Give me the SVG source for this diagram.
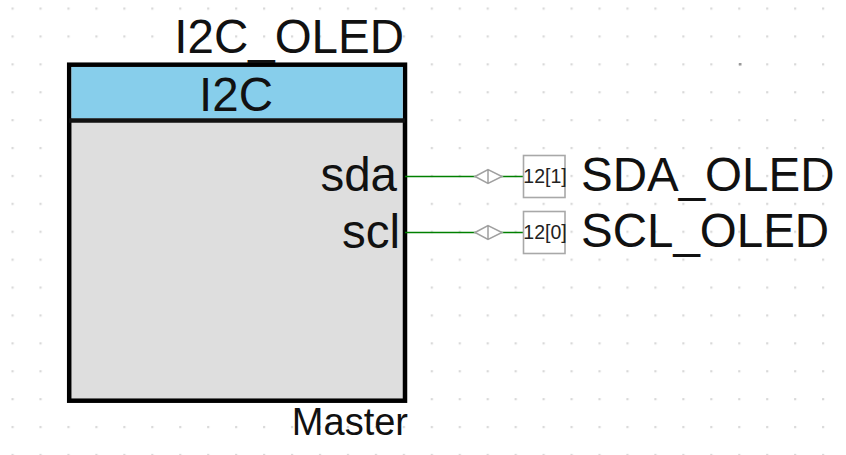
<svg xmlns="http://www.w3.org/2000/svg" width="846" height="455" viewBox="0 0 846 455">
<style>
text{font-family:"Liberation Sans",Arial,sans-serif;fill:#111}
.big{font-size:47.500px}
.pin{font-size:19.500px;fill:#222}
.wire{fill:none;stroke:#008000;stroke-width:1.4}
.dia{fill:#fff;stroke:#a0a0a0;stroke-width:1.5}
.box{fill:#fff;stroke:#a8a8a8;stroke-width:1.6}
</style>
<defs>
<pattern id="grid" width="27.95" height="27.9" patternUnits="userSpaceOnUse" x="-1.5" y="-5.5">
<rect x="13" y="13" width="2.2" height="2.2" fill="#d9d9d9"/>
</pattern>
</defs>
<rect width="846" height="455" fill="#fff"/>
<rect width="846" height="455" fill="url(#grid)"/>
<rect x="739" y="63" width="2.5" height="2.5" fill="#999"/>
<g id="node-i2c">
<rect x="69.200" y="64.700" width="335.800" height="336" fill="#dedede" stroke="#000" stroke-width="4.500"/>
<rect x="71.500" y="67" width="331.200" height="51.500" fill="#87ceeb"/>
<path d="M69 120.500H405" stroke="#111" stroke-width="4.500" fill="none"/>
<text class="big" x="404" y="53" text-anchor="end">I2C_OLED</text>
<text class="big" x="236" y="111" text-anchor="middle">I2C</text>
<text class="big" x="397" y="191" text-anchor="end">sda</text>
<text class="big" x="400" y="248" text-anchor="end">scl</text>
<text x="408" y="435" text-anchor="end" font-size="38">Master</text>
</g>
<g id="connectors">
<path class="wire" d="M405 176.500H523"/>
<path class="wire" d="M405 232.500H523"/>
</g>
<g id="node-sda">
<path class="dia" d="M475 176.500L488 169.500L502 176.500L488 183.500ZM488 169.500V183.500"/>
<rect class="box" x="523.500" y="155.500" width="41.500" height="42"/>
<text class="pin" x="545" y="182.500" text-anchor="middle">12[1]</text>
<text class="big" x="581" y="191">SDA_OLED</text>
</g>
<g id="node-scl">
<path class="dia" d="M475 232.500L488 225.500L502 232.500L488 239.500ZM488 225.500V239.500"/>
<rect class="box" x="523.500" y="211.500" width="41.500" height="42"/>
<text class="pin" x="545" y="238.500" text-anchor="middle">12[0]</text>
<text class="big" x="581" y="247">SCL_OLED</text>
</g>
</svg>
